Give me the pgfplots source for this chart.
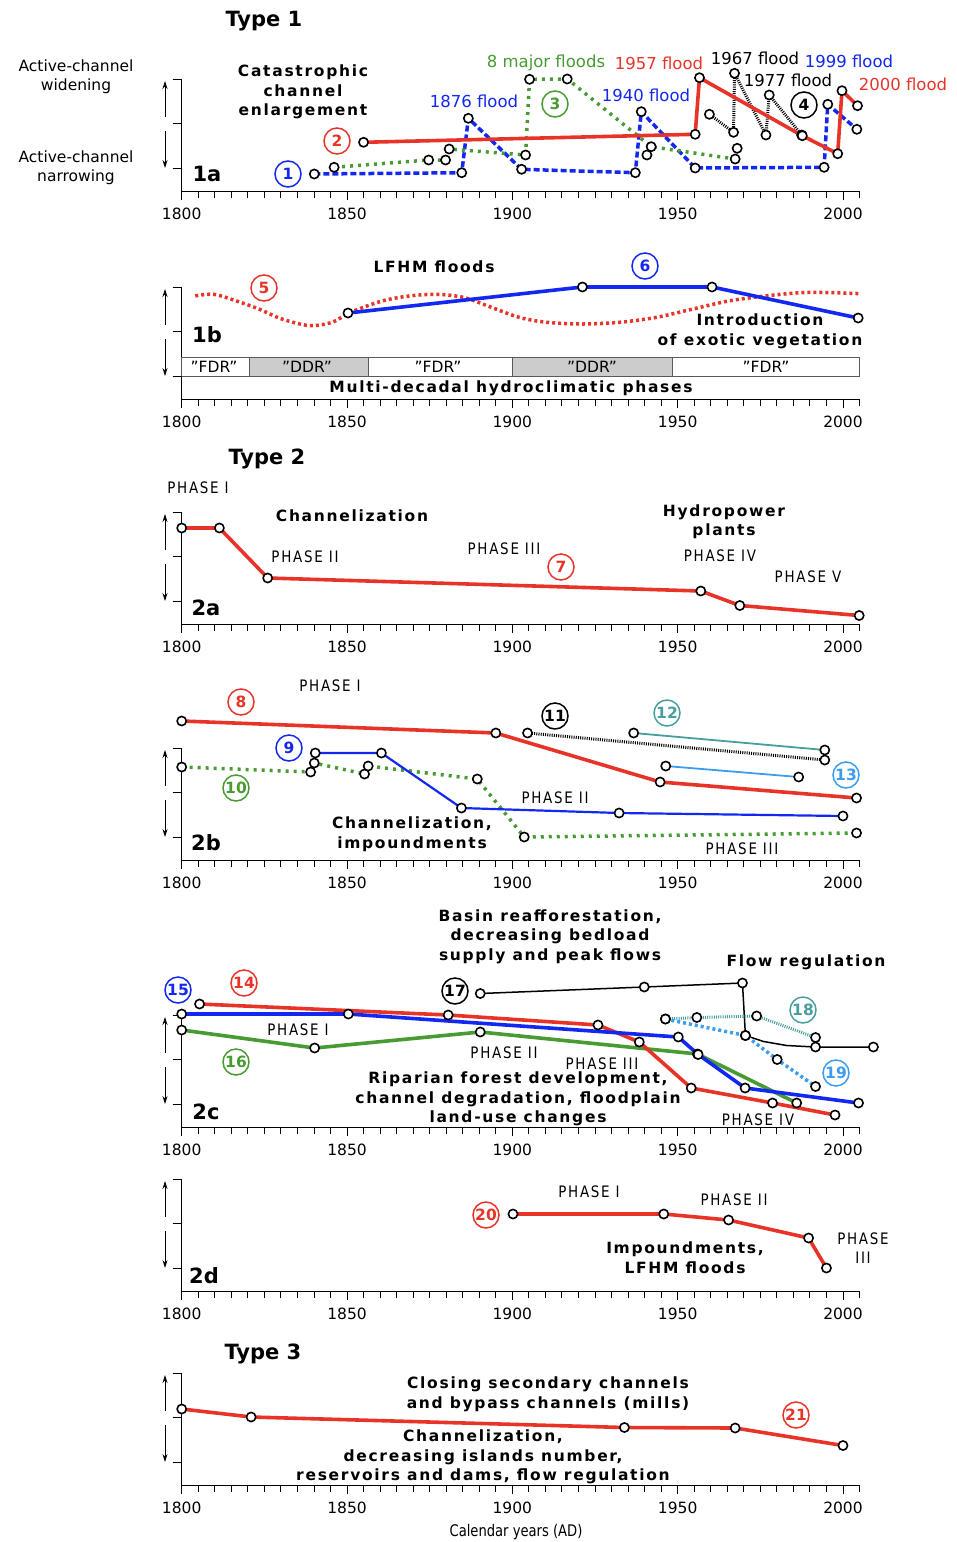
\documentclass[border=0pt]{standalone}
\usepackage{pgfplots}
\pgfplotsset{compat=1.18}
\usepackage{fontspec}
\setmainfont{DejaVu Sans}
\newfontfamily\bsp[LetterSpace=11]{DejaVu Sans Bold}
\newfontfamily\bfn{DejaVu Sans Bold}
\newfontfamily\cond[FakeStretch=0.85,LetterSpace=11]{DejaVu Sans}
\newfontfamily\condt[FakeStretch=0.82]{DejaVu Sans}
\usetikzlibrary{arrows.meta}
\definecolor{cred}{RGB}{232,52,40}
\definecolor{cblue}{RGB}{18,40,240}
\definecolor{cgreen}{RGB}{72,155,50}
\definecolor{cteal}{RGB}{72,158,156}
\definecolor{clblue}{RGB}{60,156,240}
\newcommand\fr{\fontsize{15.5}{19}\selectfont}
\newcommand\fb{\bsp\fontsize{15.5}{19.5}\selectfont}
\newcommand\fl{\fontsize{16.5}{19}\selectfont}
\newcommand\fph{\cond\fontsize{15.8}{19}\selectfont}
\newcommand\ft{\bfn\fontsize{21}{24}\selectfont}
\newcommand\q{\char34 }
\pgfplotsset{
  panel/.style={
    scale only axis, width=677.8pt, height=112pt,
    xmin=1800, xmax=2005, ymin=0, ymax=112,
    clip=false, anchor=south west,
    axis x line=bottom, axis y line=left,
    axis line style={-, line width=0.9pt, black},
    xtick={1800,1850,1900,1950,2000},
    minor xtick={1805,1810,...,2005},
    ytick={23,67.5,112}, yticklabels={},
    tick align=outside,
    major tick length=9pt, minor tick length=7pt,
    every tick/.style={black, line width=0.9pt},
    /pgf/number format/assume math mode=true,
    /pgf/number format/1000 sep={},
    xticklabel style={font=\fontsize{15.5}{16}\selectfont, yshift=-4pt},
  },
  mk/.style={mark=*, mark size=4.6pt, mark options={solid, fill=white, draw=black, line width=1.6pt}},
  redl/.style={cred, line width=3.6pt, line join=round, mk},
}
\tikzset{cnum/.style={circle, draw=#1, text=#1, line width=1.5pt, minimum size=26pt, inner sep=0pt, font=\bfn\fontsize{15.5}{15.5}\selectfont}}
\begin{document}
\begin{tikzpicture}
% ---------------- 1a
\begin{axis}[panel, at={(181.7pt,-191pt)}]
\addplot[cblue, line width=3.5pt, dash pattern=on 6pt off 3pt, mk] coordinates {
 (1840.1,17) (1884.7,18.3) (1886.7,72.7) (1902.8,21.7) (1937.2,18.3) (1939.0,79.3) (1955.3,23) (1994.3,23.7) (1995.4,86.7) (2004.2,61.7)};
\addplot[cgreen, line width=3.5pt, dash pattern=on 3pt off 5pt, mk] coordinates {
 (1846.1,23.7) (1874.7,31) (1879.8,31) (1880.9,42) (1904,36) (1905.2,111.7) (1916.6,112) (1942,44.3) (1967.4,32)};
\addplot[only marks, mk] coordinates {(1940.7,36) (1968,42.7)};
\addplot[black, line width=3pt, dash pattern=on 1pt off 1.2pt, mk] coordinates {
 (1959.6,76.7) (1966.9,58.7) (1967.2,117.7) (1976.7,56) (1977.7,96) (1987.5,56)};
\addplot[redl] coordinates {
 (1855.0,48.7) (1955.3,56.7) (1956.6,113.3) (1987.7,55.3) (1998.4,37.3) (1999.7,100.3) (2004.4,85.3)};
\end{axis}
% ---------------- 1b
\begin{axis}[panel, at={(181.7pt,-399pt)}]
\addplot[draw=gray!70!black, line width=0.8pt, fill=white] coordinates {(1800,23) (2005,23) (2005,42) (1800,42) (1800,23)};
\addplot[draw=gray!70!black, line width=0.8pt, fill=gray!40] coordinates {(1820.5,23) (1856.5,23) (1856.5,42) (1820.5,42) (1820.5,23)};
\addplot[draw=gray!70!black, line width=0.8pt, fill=gray!40] coordinates {(1900,23) (1948.5,23) (1948.5,42) (1900,42) (1900,23)};
\addplot[cred, line width=3.5pt, dash pattern=on 3pt off 3pt, smooth] coordinates {
 (1804.1,103.1) (1809.7,104.7) (1816.6,98) (1823.4,89.9) (1830.3,80) (1838.6,73.4) (1845.5,76.7) (1851.0,86.6)
 (1860.7,98.1) (1869.0,103.1) (1877.3,104.7) (1885.5,101.4) (1893.8,91.5) (1902.1,81.6) (1910.4,76.7) (1921.4,75)
 (1932.4,76.7) (1943.5,81.6) (1954.5,89.9) (1965.5,98.1) (1976.6,103.1) (1987.6,106.4) (1995.9,106.4) (2004.8,105.4)};
\addplot[cblue, line width=3.6pt, line join=round, mk] coordinates {(1850.3,86) (1921.2,112) (1960.4,112) (2004.6,81)};
\end{axis}
% ---------------- 2a
\begin{axis}[panel, at={(181.7pt,-624pt)}]
\addplot[redl] coordinates {(1800,96) (1811.4,96) (1826,46) (1957,33) (1968.8,18.5) (2004.9,8.5)};
\end{axis}
% ---------------- 2b
\begin{axis}[panel, at={(181.7pt,-860pt)}]
\addplot[cgreen, line width=3.5pt, dash pattern=on 3pt off 5pt, mk] coordinates {
 (1800,93) (1839,88) (1840.1,97) (1855.3,86) (1856.4,94) (1889.4,81) (1903.6,23) (2004.1,27)};
\addplot[cblue, line width=2.2pt, line join=round, mk] coordinates {(1840.4,107) (1860.4,107) (1884.6,52) (1932.3,47) (2000,44)};
\addplot[black, line width=3pt, dash pattern=on 1pt off 1.2pt, mk] coordinates {(1904.6,127) (1994.5,100)};
\addplot[cteal, line width=1.8pt, mk] coordinates {(1936.7,127) (1994.5,110)};
\addplot[clblue, line width=1.8pt, mk] coordinates {(1946.4,94) (1986.6,83)};
\addplot[redl] coordinates {(1800,139) (1895,127) (1944.7,78) (2004.1,62)};
\end{axis}
% ---------------- 2c
\begin{axis}[panel, at={(181.7pt,-1127pt)}]
\addplot[black, line width=1.5pt, mk, mark indices={1,2,3,4,7,8}] coordinates {
 (1890.3,133.5) (1939.9,140) (1969.6,144) (1970.5,91.5) (1976,85.5) (1983,81.5) (1991.7,80) (2009.2,80)};
\addplot[cteal, line width=3pt, dash pattern=on 1pt off 1.2pt, mk] coordinates {(1946.3,108) (1955.8,109.5) (1973.9,111) (1991.7,89.5)};
\addplot[clblue, line width=3.5pt, dash pattern=on 3pt off 3pt, mk] coordinates {(1946.3,108) (1970.5,91.5) (1980.1,67.5) (1991.7,40.5)};
\addplot[cgreen, line width=3.6pt, line join=round, mk] coordinates {(1800,97) (1840.2,79) (1890.3,95) (1956,73) (1986,24)};
\addplot[redl] coordinates {(1805.4,123) (1880.6,112) (1925.9,102) (1938.4,85) (1954.1,39) (1978.7,24) (1997.6,12)};
\addplot[cblue, line width=3.6pt, line join=round, mk] coordinates {(1800,113) (1850.4,113) (1950.2,90) (1956.2,72.5) (1970.4,39) (2004.7,24)};
\end{axis}
% ---------------- 2d
\begin{axis}[panel, at={(181.7pt,-1291pt)}]
\addplot[redl] coordinates {(1900.2,77) (1945.8,77) (1965.4,71) (1989.6,53) (1995,23)};
\end{axis}
% ---------------- 3
\begin{axis}[panel, at={(181.7pt,-1485pt)}]
\addplot[redl] coordinates {(1800,76) (1821,68) (1933.9,57.5) (1967.4,57) (2000,39.5)};
\end{axis}
% ---------------- annotations (pixel coordinates)
\begin{scope}[x=1pt,y=-1pt]
\path[use as bounding box] (0,0) rectangle (957,1542);
\foreach \T in {79,287,512,748,1015,1179,1373} {
  \draw[line width=0.8pt,-{Stealth[length=8pt,width=5pt]}] (165,\T+38) -- (165,\T+2);
  \draw[line width=0.8pt,-{Stealth[length=8pt,width=5pt]}] (165,\T+52) -- (165,\T+89);
}
% titles
\node[font=\ft] at (264,21) {Type 1};
\node[font=\ft] at (267,459) {Type 2};
\node[font=\ft] at (263,1354) {Type 3};
\node[font=\ft] at (207,174) {1a};
\node[font=\ft] at (207,335) {1b};
\node[font=\ft] at (206,608) {2a};
\node[font=\ft] at (206,843) {2b};
\node[font=\ft] at (206,1112) {2c};
\node[font=\ft] at (204,1276) {2d};
% left labels
\node[font=\fr, align=center] at (76,76.5) {Active-channel\\widening};
\node[font=\fr, align=center] at (76,168) {Active-channel\\narrowing};
% 1a
\node[font=\fb, align=center] at (303,92) {Catastrophic\\channel\\enlargement};
\node[font=\fl, text=cblue] at (474,101) {1876 flood};
\node[font=\fl, text=cgreen] at (546,63) {8 major floods};
\node[font=\fl, text=cred] at (659,63) {1957 flood};
\node[font=\fl] at (755,58) {1967 flood};
\node[font=\fl, text=cblue] at (849,61) {1999 flood};
\node[font=\fl] at (788,80) {1977 flood};
\node[font=\fl, text=cred] at (903,84) {2000 flood};
\node[font=\fl, text=cblue] at (646,95) {1940 flood};
\node[cnum=cblue] at (288,174) {1};
\node[cnum=cred] at (337,141) {2};
\node[cnum=cgreen] at (555,104) {3};
\node[cnum=black] at (804,105) {4};
% 1b
\node[font=\fb] at (434,267) {LFHM floods};
\node[cnum=cred] at (264,288) {5};
\node[cnum=cblue] at (645,266) {6};
\node[font=\fb, align=center] at (760,331.5) {Introduction\\of exotic vegetation};
\node[font=\fr] at (214,367) {\q FDR\q};
\node[font=\fr] at (307,367) {\q DDR\q};
\node[font=\fr] at (438,367) {\q FDR\q};
\node[font=\fr] at (592,367) {\q DDR\q};
\node[font=\fr] at (766,367) {\q FDR\q};
\node[font=\fb] at (511,388) {Multi-decadal hydroclimatic phases};
% 2a
\node[font=\fph] at (198,488) {PHASE I};
\node[font=\fb] at (352,516) {Channelization};
\node[font=\fph] at (305,557) {PHASE II};
\node[font=\fph] at (504,549) {PHASE III};
\node[cnum=cred] at (561,567) {7};
\node[font=\fb, align=center] at (724,521.5) {Hydropower\\plants};
\node[font=\fph] at (720,556) {PHASE IV};
\node[font=\fph] at (808,577) {PHASE V};
% 2b
\node[font=\fph] at (330,686) {PHASE I};
\node[cnum=cred] at (241,702) {8};
\node[cnum=cblue] at (289,748) {9};
\node[cnum=cgreen] at (236,788) {10};
\node[cnum=black] at (555,716) {11};
\node[cnum=cteal] at (667,713) {12};
\node[cnum=clblue] at (846,775) {13};
\node[font=\fph] at (555,798) {PHASE II};
\node[font=\fb, align=center] at (412,834) {Channelization,\\impoundments};
\node[font=\fph] at (742,849) {PHASE III};
% 2c
\node[font=\fb, align=center] at (550,936.5) {Basin reafforestation,\\decreasing bedload\\supply and peak flows};
\node[font=\fb] at (806,962) {Flow regulation};
\node[cnum=cblue] at (178,990) {15};
\node[cnum=cred] at (244,983) {14};
\node[cnum=black] at (455,991) {17};
\node[cnum=cteal] at (803,1010) {18};
\node[cnum=clblue] at (836,1073) {19};
\node[cnum=cgreen] at (236,1062) {16};
\node[font=\fph] at (298,1030) {PHASE I};
\node[font=\fph] at (504,1053) {PHASE II};
\node[font=\fph] at (602,1064) {PHASE III};
\node[font=\fb, align=center] at (518,1099) {Riparian forest development,\\channel degradation, floodplain\\land-use changes};
\node[font=\fph] at (758,1120) {PHASE IV};
% 2d
\node[cnum=cred] at (486,1215) {20};
\node[font=\fph] at (589,1192) {PHASE I};
\node[font=\fph] at (734,1200) {PHASE II};
\node[font=\fph, align=center] at (863,1248.5) {PHASE\\III};
\node[font=\fb, align=center] at (685,1257.5) {Impoundments,\\LFHM floods};
% 3
\node[font=\fb, align=center] at (548,1394.5) {Closing secondary channels\\and bypass channels (mills)};
\node[cnum=cred] at (796,1415) {21};
\node[font=\fb, align=center] at (483,1457) {Channelization,\\decreasing islands number,\\reservoirs and dams, flow regulation};
\node[font=\condt\fontsize{16}{19}\selectfont] at (516,1532) {Calendar years (AD)};
\end{scope}
\end{tikzpicture}
\end{document}
